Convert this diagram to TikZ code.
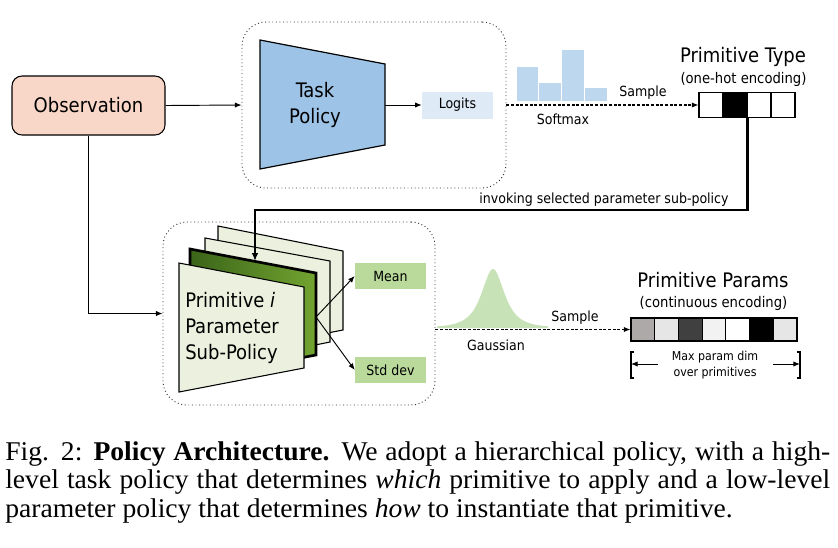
\documentclass[tikz,border=0pt]{standalone}
\usepackage{fontspec}
\setmainfont{Liberation Serif}
\newfontfamily\capfont[FakeStretch=1.02]{Liberation Serif}
\newfontfamily\dfont{DejaVu Sans Condensed}
\usetikzlibrary{arrows.meta,calc}
\definecolor{obsfill}{HTML}{F8D7C9}
\definecolor{taskfill}{HTML}{9DC3E6}
\definecolor{logitfill}{HTML}{DEEBF7}
\definecolor{histfill}{HTML}{BDD7EE}
\definecolor{layerfill}{HTML}{EBF1DE}
\definecolor{darkgA}{HTML}{3B6418}
\definecolor{darkgB}{HTML}{72A431}
\definecolor{outfill}{HTML}{BADA9C}
\definecolor{gaussfill}{HTML}{C8E2B8}
\tikzset{
  arr/.style={-{Latex[length=5pt,width=4pt]}, line width=0.7pt},
  dasharr/.style={-{Latex[length=5pt,width=4pt]}, line width=0.8pt, dash pattern=on 2.2pt off 1.3pt},
  dotbox/.style={draw=black!80, dotted, line width=0.7pt, rounded corners=18pt},
  txt/.style={font=\dfont, inner sep=0pt},
  smallbox/.style={font=\dfont\fontsize{10.5}{12}\selectfont, inner sep=0pt, minimum width=53.25pt, minimum height=19.5pt},
  cell/.style={draw, line width=0.8pt, minimum width=18pt, minimum height=18.75pt, inner sep=0pt},
  pcell/.style={draw, line width=0.8pt, minimum width=17.78pt, minimum height=17.25pt, inner sep=0pt},
  layer/.style={draw, fill=layerfill, line width=0.8pt},
}
\begin{document}
\begin{tikzpicture}[x=0.75pt,y=-0.75pt]
\useasboundingbox (0,0) rectangle (838,547);
\fill[white] (0,0) rectangle (838,547);

% ---------- top part ----------
\node[draw, fill=obsfill, line width=0.8pt, rounded corners=7.5pt, minimum width=114.75pt, minimum height=44.25pt, font=\dfont\fontsize{15}{18}\selectfont] (obs) at (88.5,105.5) {Observation};

\node[dotbox, minimum width=198pt, minimum height=124.5pt] (taskbox) at (374,105) {};

\draw[fill=taskfill, line width=0.9pt] (260,40) -- (385,64) -- (385,145) -- (260,169) -- cycle;
\coordinate (tpR) at (385,105);
\node[txt, align=center, font=\dfont\fontsize{15}{19.5}\selectfont] (tasktxt) at (315,105) {Task\\Policy};

\node[smallbox, fill=logitfill, minimum height=20.25pt] (logits) at (457.5,105) {Logits};
\draw[arr] (tpR) -- (logits.west);
\draw[arr] (obs.east) -- (taskbox.west);

% histogram
\fill[histfill] (517,67) rectangle (537.5,101);
\fill[histfill] (538.5,83) rectangle (560.5,101);
\fill[histfill] (561.5,50) rectangle (583.5,101);
\fill[histfill] (584.5,88) rectangle (607,101);
\node[txt, font=\dfont\fontsize{10.5}{12}\selectfont] (softmax) at (563,119) {Softmax};
\node[txt, font=\dfont\fontsize{10.5}{12}\selectfont] (sample1) at (643,93) {Sample};

% one-hot
\foreach \i/\c in {1/white,2/black,3/white,4/white}{
  \node[cell, fill=\c] (oh\i) at ({699+12+(\i-1)*24},105) {};
}
\node[txt, font=\dfont\fontsize{15}{18}\selectfont] (pttitle) at (743,57) {Primitive Type};
\node[txt, font=\dfont\fontsize{11}{13}\selectfont] (ptsub) at (743.5,79) {(one-hot encoding)};
\draw[dasharr] (taskbox.east) -- (oh1.west);

% ---------- bottom part ----------
\node[dotbox, minimum width=204pt, minimum height=137.25pt] (pbox) at (299,313.5) {};
\draw[arr] (obs.south) |- (pbox.west);

% layers
\draw[layer] (218,226) -- (343,251) -- (343,330) -- (218,354) -- cycle;
\draw[layer] (205,238) -- (330,261) -- (330,342) -- (205,367) -- cycle;
\draw[left color=darkgA, right color=darkgB, line width=2pt] (190,249) -- (316,273) -- (316,355) -- (190,379) -- cycle;
\draw[layer] (179,263) -- (304,287) -- (304,368) -- (179,392) -- cycle;
\node[txt, anchor=west, align=left, font=\dfont\fontsize{15}{19.5}\selectfont] (primtxt) at (185,328) {Primitive \textit{i}\\Parameter\\Sub-Policy};

\coordinate (split) at (316,317);
\coordinate (layerin) at (255,261);
\node[smallbox, fill=outfill] (mean) at (390.5,276) {Mean};
\node[smallbox, fill=outfill] (std) at (390.5,370) {Std dev};
\draw[arr] (split) -- (mean.west);
\draw[arr] (split) -- (std.west);

% invoking connector
\coordinate (turnL) at (255,210);
\draw[line width=2pt, -{Latex[length=6pt,width=5pt]}] (oh2.south east) |- (turnL) -- (layerin);
\node[txt, font=\dfont\fontsize{10.5}{12}\selectfont] (invoke) at (604,200) {invoking selected parameter sub-policy};

% gaussian
\fill[gaussfill] (437,328) -- plot[domain=437:548, samples=90] (\x, {328-59/((1+((\x-493)/17.6)^2)*sqrt(1+((\x-493)/17.6)^2))}) -- (548,328) -- cycle;
\node[txt, font=\dfont\fontsize{10.5}{12}\selectfont] (gauss) at (496,345) {Gaussian};
\node[txt, font=\dfont\fontsize{10.5}{12}\selectfont] (sample2) at (575,318) {Sample};

% params
\foreach \i/\c in {1/ADA9A8,2/E6E6E6,3/404040,4/F2F2F2,5/FFFFFF,6/000000,7/E6E6E6}{
  \definecolor{tmpc}{HTML}{\c}
  \node[pcell, fill=tmpc] (pc\i) at ({631+11.857+(\i-1)*23.714},329.5) {};
}
\draw[dasharr] (pbox.east |- pc1.west) -- (pc1.west);
\node[txt, font=\dfont\fontsize{15}{18}\selectfont] (pptitle) at (713,280) {Primitive Params};
\node[txt, font=\dfont\fontsize{11}{13}\selectfont] (ppsub) at (713.5,303) {(continuous encoding)};

% bracket
\coordinate (bL) at (631,364);
\coordinate (bR) at (800,364);
\draw[line width=0.8pt] (634,352) -- (631,352) -- (631,378) -- (634,378);
\draw[line width=0.8pt] (797,352) -- (800,352) -- (800,378) -- (797,378);
\coordinate (aLs) at (658,364);
\coordinate (aRs) at (773,364);
\draw[arr] (aLs) -- (bL);
\draw[arr] (aRs) -- (bR);
\node[txt, align=center, font=\dfont\fontsize{9.2}{12}\selectfont] (maxtxt) at (715,365) {Max param dim\\over primitives};

% caption
\node[anchor=north west, inner sep=0pt, text width=618.75pt, align=justify, font=\capfont\fontsize{20.3}{21.4}\selectfont] (caption) at (5,441) {Fig. 2: \textbf{Policy Architecture.} We adopt a hierarchical policy, with a high-\linebreak level task policy that determines \textit{which} primitive to apply and a low-level\linebreak parameter policy that determines \textit{how} to instantiate that primitive.};
\end{tikzpicture}
\end{document}
